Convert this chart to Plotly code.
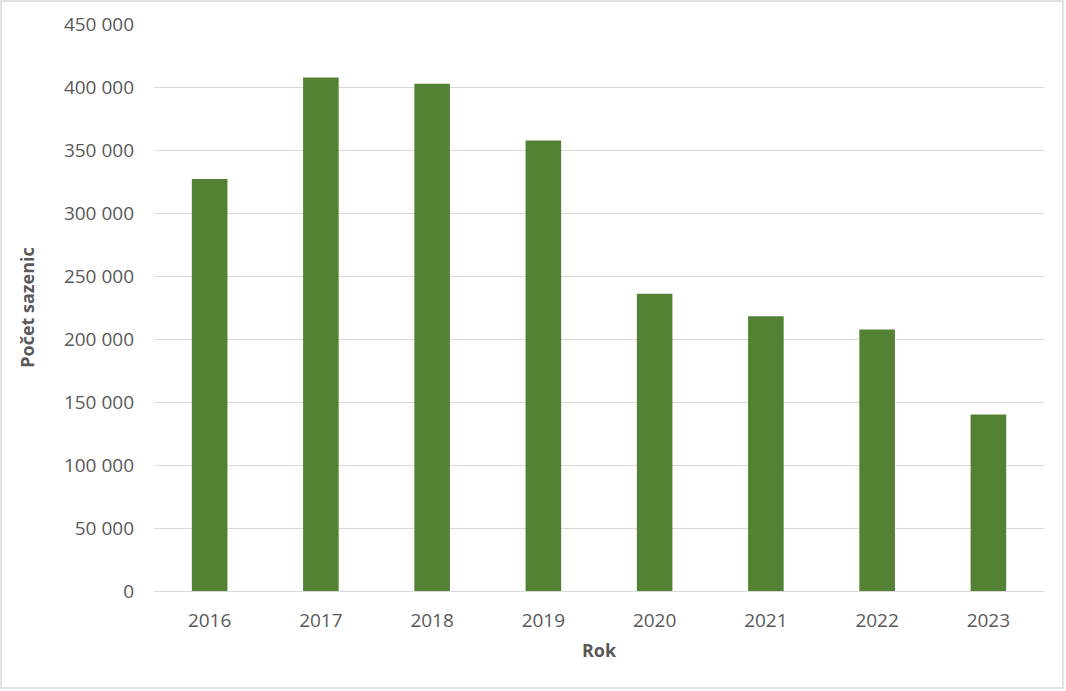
import plotly.graph_objects as go

years = ["2016", "2017", "2018", "2019", "2020", "2021", "2022", "2023"]
seedlings = [327000, 407500, 402500, 357500, 236000, 218000, 207500, 140000]
tick_vals = [0, 50000, 100000, 150000, 200000, 250000, 300000, 350000, 400000, 450000]
tick_text = ["0", "50 000", "100 000", "150 000", "200 000", "250 000",
             "300 000", "350 000", "400 000", "450 000"]

W, H = 1066, 691
L, R, T, B = 154, 22, 24, 100
pw, ph = W - L - R, H - T - B

FONT = "Open Sans"
GRAY = "#595959"
FS = 19

fig = go.Figure(go.Bar(x=years, y=seedlings, marker=dict(color="#548235", line_width=0),
                       width=0.32))

fig.update_layout(
    width=W, height=H,
    margin=dict(l=L, r=R, t=T, b=B),
    paper_bgcolor="white", plot_bgcolor="white",
    font=dict(family=FONT, color=GRAY, size=FS),
    showlegend=False,
    xaxis=dict(title=dict(text="<b>Rok</b>", font=dict(size=FS - 1, color=GRAY), standoff=12),
               showline=True, linecolor="#d9d9d9", linewidth=1.3, ticks="",
               tickfont=dict(size=FS, color=GRAY), showgrid=False, ticklabelstandoff=12),
    yaxis=dict(title=dict(text="<b>Počet sazenic</b>", font=dict(size=FS - 1, color=GRAY), standoff=24),
               range=[0, 450000], tickvals=tick_vals, ticktext=tick_text,
               gridcolor="#d9d9d9", gridwidth=1.3, zeroline=False, showline=False,
               tickfont=dict(size=FS, color=GRAY), ticks="", ticklabelstandoff=19),
)

# outer chart border
fig.add_shape(type="rect", xref="paper", yref="paper",
              x0=(1 - L) / pw, x1=(1063 - L) / pw,
              y0=(H - T - B - (688 - T)) / ph, y1=(H - T - B - (1 - T)) / ph,
              line=dict(color="#d9d9d9", width=1.5), fillcolor="rgba(0,0,0,0)", layer="below")

fig.write_html("out.html", config={"displayModeBar": False},
               post_script="document.body.style.margin='0';")
